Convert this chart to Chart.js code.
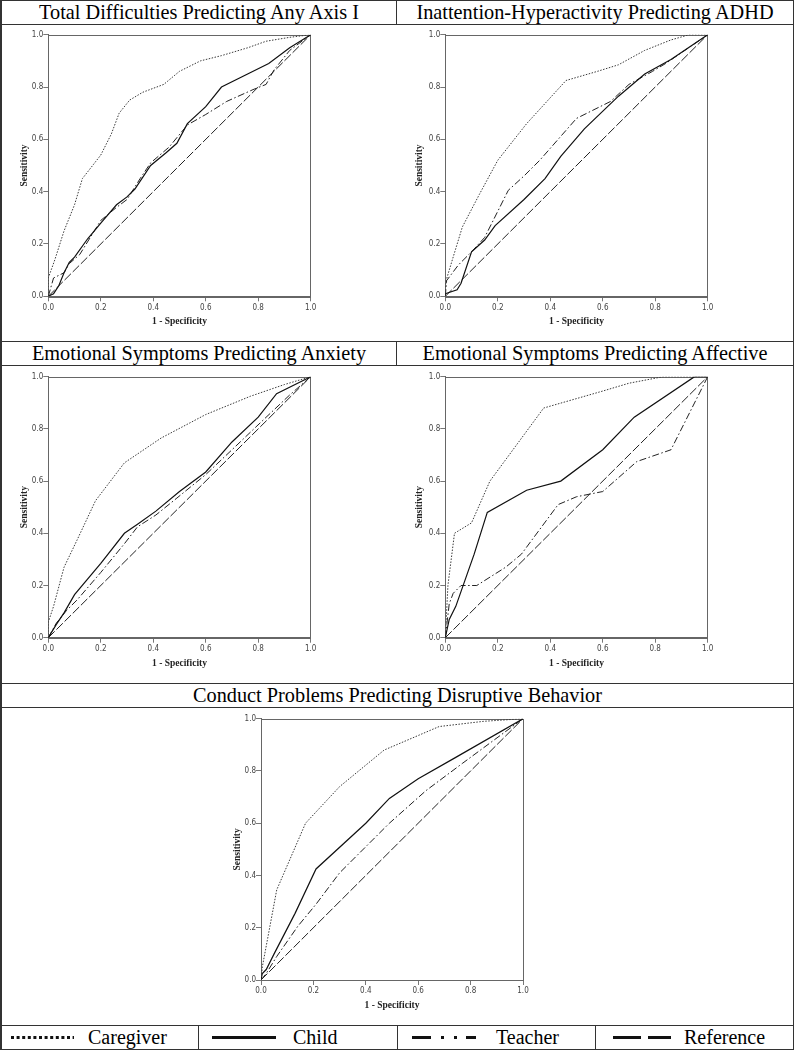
<!DOCTYPE html>
<html><head><meta charset="utf-8">
<script src="https://cdn.jsdelivr.net/npm/chart.js@4/dist/chart.umd.min.js"></script>
<style>
body{margin:0;background:#fff;}
#page{position:relative;width:794px;height:1050px;overflow:hidden;font-family:"Liberation Serif","Times New Roman",serif;color:#000;}
.hl{position:absolute;left:0;width:794px;height:1px;background:#333;}
.vl{position:absolute;width:1px;background:#333;}
.title{position:absolute;height:24px;line-height:24px;text-align:center;font-size:20.3px;white-space:nowrap;}
canvas{position:absolute;}
.lt{position:absolute;top:1025px;height:24px;line-height:24px;font-size:20px;white-space:nowrap;}
svg{position:absolute;}
</style>
</head><body>
<div id="page">
  <div style="position:absolute;left:0;top:0;width:794px;height:1050px;box-sizing:border-box;border:1px solid #333;border-left:2px solid #333;"></div>
  <div class="hl" style="top:24px"></div>
  <div class="hl" style="top:341px"></div>
  <div class="hl" style="top:365px"></div>
  <div class="hl" style="top:683px"></div>
  <div class="hl" style="top:707px"></div>
  <div class="hl" style="top:1025px"></div>
  <div class="vl" style="left:396px;top:0;height:24px"></div>
  <div class="vl" style="left:396px;top:341px;height:24px"></div>
  <div class="vl" style="left:198px;top:1025px;height:25px"></div>
  <div class="vl" style="left:397px;top:1025px;height:25px"></div>
  <div class="vl" style="left:595px;top:1025px;height:25px"></div>

  <div class="title" style="left:2px;width:394px;top:0">Total Difficulties Predicting Any Axis I</div>
  <div class="title" style="left:397px;width:396px;top:0">Inattention-Hyperactivity Predicting ADHD</div>
  <div class="title" style="left:2px;width:394px;top:341px">Emotional Symptoms Predicting Anxiety</div>
  <div class="title" style="left:397px;width:396px;top:341px">Emotional Symptoms Predicting Affective</div>
  <div class="title" style="left:2px;width:791px;top:683px">Conduct Problems Predicting Disruptive Behavior</div>

  <canvas id="c1" width="393" height="316" style="left:2px;top:25px"></canvas>
  <canvas id="c2" width="396" height="316" style="left:397px;top:25px"></canvas>
  <canvas id="c3" width="393" height="317" style="left:2px;top:366px"></canvas>
  <canvas id="c4" width="396" height="317" style="left:397px;top:366px"></canvas>
  <canvas id="c5" width="400" height="317" style="left:215px;top:708px"></canvas>

  <svg width="794" height="24" style="left:0;top:1025px">
    <line x1="11" y1="12.5" x2="74" y2="12.5" stroke="#111" stroke-width="3" stroke-dasharray="3,2.6"/>
    <line x1="212" y1="12.5" x2="276" y2="12.5" stroke="#111" stroke-width="3"/>
    <line x1="412" y1="12.5" x2="476" y2="12.5" stroke="#111" stroke-width="3" stroke-dasharray="19,10,3,10,3,9"/>
    <line x1="613" y1="12.5" x2="671" y2="12.5" stroke="#111" stroke-width="3" stroke-dasharray="28,7"/>
  </svg>
  <div class="lt" style="left:88px">Caregiver</div>
  <div class="lt" style="left:293px">Child</div>
  <div class="lt" style="left:496px">Teacher</div>
  <div class="lt" style="left:684px">Reference</div>
</div>
<script>
// ---- data: [1 - specificity, sensitivity] ----
const tickValues = [0, 0.2, 0.4, 0.6, 0.8, 1.0];
const seriesNames = ["Caregiver", "Child", "Teacher", "Reference"];
const reference = [[0,0],[1,1]];

const anyAxisCaregiver = [[0,0],[0,0.07],[0.025,0.14],[0.06,0.25],[0.1,0.35],[0.13,0.45],[0.2,0.54],[0.24,0.62],[0.27,0.70],[0.31,0.75],[0.36,0.78],[0.44,0.81],[0.5,0.86],[0.58,0.90],[0.66,0.92],[0.76,0.95],[0.83,0.975],[0.92,0.99],[1,1]];
const anyAxisChild = [[0,0],[0.02,0.01],[0.04,0.04],[0.06,0.09],[0.08,0.13],[0.1,0.15],[0.15,0.22],[0.2,0.28],[0.26,0.35],[0.3,0.38],[0.33,0.41],[0.39,0.50],[0.45,0.55],[0.49,0.585],[0.53,0.66],[0.6,0.725],[0.66,0.80],[0.75,0.845],[0.84,0.89],[0.92,0.95],[1,1]];
const anyAxisTeacher = [[0,0],[0.02,0.07],[0.06,0.09],[0.08,0.125],[0.12,0.16],[0.2,0.29],[0.26,0.34],[0.3,0.37],[0.35,0.45],[0.39,0.51],[0.46,0.57],[0.53,0.655],[0.6,0.695],[0.68,0.745],[0.78,0.79],[0.83,0.81],[0.86,0.865],[0.92,0.94],[1,1]];

const adhdCaregiver = [[0,0],[0,0.04],[0.006,0.07],[0.03,0.15],[0.065,0.265],[0.13,0.39],[0.2,0.52],[0.31,0.66],[0.46,0.825],[0.58,0.86],[0.66,0.885],[0.76,0.94],[0.86,0.98],[0.93,1],[1,1]];
const adhdChild = [[0,0],[0,0.01],[0.045,0.025],[0.06,0.05],[0.1,0.17],[0.15,0.215],[0.19,0.27],[0.3,0.37],[0.38,0.45],[0.44,0.535],[0.53,0.64],[0.66,0.765],[0.76,0.85],[0.86,0.905],[1,1]];
const adhdTeacher = [[0,0],[0.005,0.06],[0.05,0.12],[0.1,0.17],[0.15,0.225],[0.24,0.405],[0.3,0.46],[0.36,0.52],[0.5,0.68],[0.54,0.7],[0.63,0.745],[0.7,0.81],[0.79,0.86],[0.84,0.89],[1,1]];

const anxietyCaregiver = [[0,0],[0,0.06],[0.02,0.12],[0.06,0.27],[0.11,0.375],[0.18,0.525],[0.29,0.67],[0.43,0.765],[0.6,0.855],[0.77,0.925],[0.9,0.97],[1,1]];
const anxietyChild = [[0,0],[0.03,0.05],[0.06,0.095],[0.1,0.165],[0.2,0.285],[0.29,0.40],[0.34,0.435],[0.41,0.485],[0.5,0.56],[0.6,0.635],[0.7,0.75],[0.8,0.845],[0.87,0.935],[1,1]];
const anxietyTeacher = [[0,0],[0.03,0.055],[0.07,0.105],[0.11,0.145],[0.2,0.25],[0.29,0.36],[0.34,0.425],[0.41,0.47],[0.49,0.535],[0.6,0.625],[0.7,0.72],[0.82,0.835],[0.92,0.93],[1,1]];

const affectiveCaregiver = [[0,0],[0.005,0.1],[0.01,0.2],[0.035,0.40],[0.1,0.44],[0.17,0.60],[0.375,0.88],[0.6,0.945],[0.7,0.975],[0.83,1],[1,1]];
const affectiveChild = [[0,0],[0.015,0.07],[0.04,0.12],[0.11,0.32],[0.16,0.48],[0.31,0.565],[0.44,0.60],[0.6,0.72],[0.72,0.845],[0.95,1],[1,1]];
const affectiveTeacher = [[0,0],[0.015,0.13],[0.03,0.17],[0.06,0.20],[0.12,0.20],[0.23,0.27],[0.29,0.32],[0.43,0.51],[0.5,0.54],[0.6,0.56],[0.73,0.675],[0.86,0.72],[1,1]];

const disruptiveCaregiver = [[0,0],[0.005,0.05],[0.02,0.13],[0.06,0.345],[0.17,0.60],[0.3,0.74],[0.47,0.88],[0.68,0.97],[0.85,0.99],[1,1]];
const disruptiveChild = [[0,0],[0.005,0.025],[0.02,0.04],[0.05,0.10],[0.13,0.255],[0.21,0.425],[0.4,0.60],[0.49,0.695],[0.6,0.77],[0.74,0.85],[1,1]];
const disruptiveTeacher = [[0,0],[0.02,0.025],[0.06,0.09],[0.14,0.205],[0.21,0.29],[0.3,0.41],[0.49,0.60],[0.63,0.725],[0.77,0.83],[1,1]];

// ---- styles ----
const styles = [
  {color:'#3a3a3a', width:1, dash:[1.5,1.5]},
  {color:'#111', width:1.2, dash:[]},
  {color:'#222', width:1, dash:[7,2.5,1.5,2.5]},
  {color:'#222', width:1, dash:[9,2.5]}
];

const framePlugin = {
  id:'frame',
  beforeDatasetsDraw(chart){
    const a = chart.chartArea, ctx = chart.ctx;
    ctx.save();
    ctx.strokeStyle = '#666';
    ctx.lineWidth = 1;
    ctx.strokeRect(Math.round(a.left)+0.5, Math.round(a.top)+0.5, Math.round(a.right-a.left), Math.round(a.bottom-a.top));
    ctx.restore();
  }
};

function makeChart(id, canvasLeft, canvasTop, area, seriesList){
  const cv = document.getElementById(id);
  const W = cv.width, H = cv.height;
  const padTop = area[1] - canvasTop;
  const padRight = canvasLeft + W - area[2];
  const yWidth = area[0] - canvasLeft;
  const xHeight = canvasTop + H - area[3];
  const datasets = seriesList.map((pts, i) => ({
    label: seriesNames[i],
    data: pts.map(p => ({x:p[0], y:p[1]})),
    borderColor: styles[i].color,
    borderWidth: styles[i].width,
    borderDash: styles[i].dash,
    pointRadius: 0,
    tension: 0,
    fill: false
  }));
  const tickFont = {family:"'Liberation Sans Narrow','DejaVu Sans Condensed','Liberation Sans',sans-serif", size:8};
  const titleFont = {family:"'Liberation Serif','Times New Roman',serif", size:9.5, weight:'bold'};
  const axisCommon = {
    type:'linear', min:0, max:1,
    grid:{display:true, drawOnChartArea:false, drawTicks:true, tickLength:5, color:'#777'},
    border:{display:true, color:'#666', width:1},
  };
  new Chart(cv, {
    type:'line',
    data:{datasets},
    plugins:[framePlugin],
    options:{
      responsive:false, animation:false, devicePixelRatio:1,
      layout:{padding:{left:0, top:padTop, right:padRight, bottom:0}},
      plugins:{legend:{display:false}, tooltip:{enabled:false}, title:{display:false}},
      scales:{
        x:Object.assign({}, axisCommon, {
          position:'bottom',
          afterBuildTicks: s => { s.ticks = tickValues.map(v => ({value:v})); },
          ticks:{font:tickFont, color:'#444', padding:1.5, maxRotation:0, autoSkip:false, callback:v => Number(v).toFixed(1)},
          title:{display:true, text:'1 - Specificity', font:titleFont, color:'#222', padding:{top:0,bottom:13.5}},
          afterFit: s => { s.height = xHeight; }
        }),
        y:Object.assign({}, axisCommon, {
          position:'left',
          afterBuildTicks: s => { s.ticks = tickValues.map(v => ({value:v})); },
          ticks:{font:tickFont, color:'#444', padding:0, autoSkip:false, callback:v => Number(v).toFixed(1)},
          title:{display:true, text:'Sensitivity', font:titleFont, color:'#222', padding:{top:16.5,bottom:0}},
          afterFit: s => { s.width = yWidth; }
        })
      }
    }
  });
}

makeChart('c1', 2, 25, [48.3, 34.7, 310.7, 296.3], [anyAxisCaregiver, anyAxisChild, anyAxisTeacher, reference]);
makeChart('c2', 397, 25, [445.3, 34.7, 707.7, 296.3], [adhdCaregiver, adhdChild, adhdTeacher, reference]);
makeChart('c3', 2, 366, [48.3, 376.7, 310.7, 637.7], [anxietyCaregiver, anxietyChild, anxietyTeacher, reference]);
makeChart('c4', 397, 366, [445.3, 376.7, 707.7, 637.7], [affectiveCaregiver, affectiveChild, affectiveTeacher, reference]);
makeChart('c5', 215, 708, [261, 718.7, 523, 980], [disruptiveCaregiver, disruptiveChild, disruptiveTeacher, reference]);
</script>
</body></html>
